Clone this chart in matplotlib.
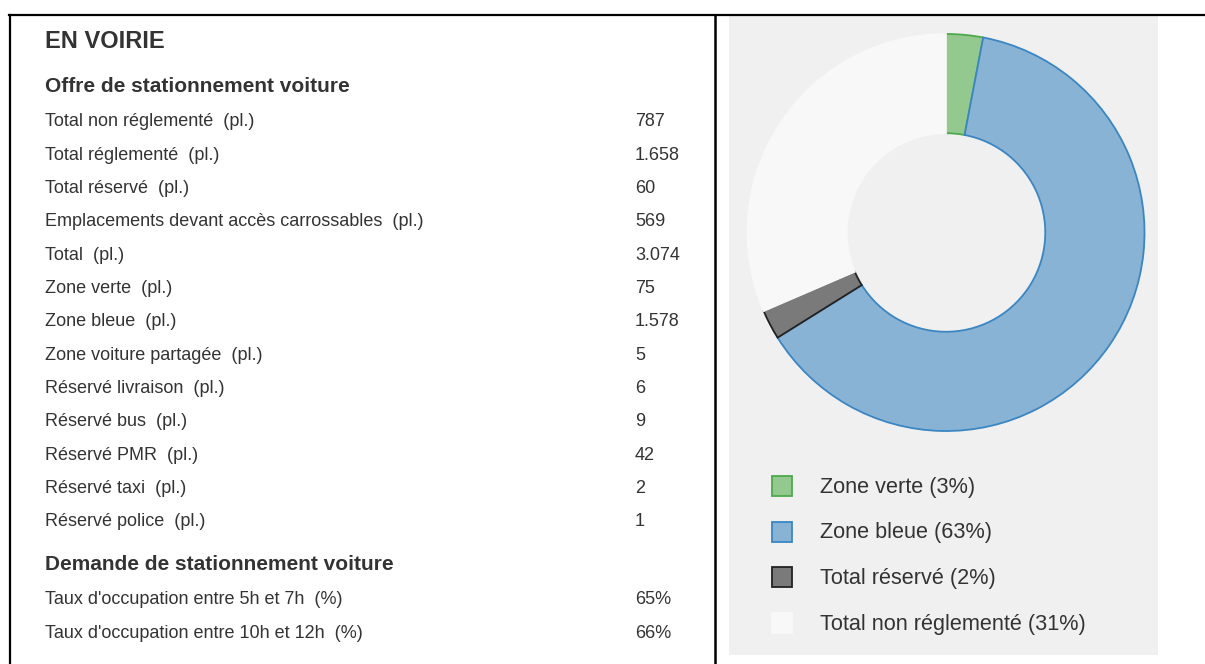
import matplotlib
matplotlib.use('Agg')
import matplotlib.pyplot as plt
from matplotlib.patches import Rectangle
from matplotlib.lines import Line2D

plt.rcParams['font.family'] = ['Liberation Sans', 'DejaVu Sans']

# tableau "offre"
offre_labels = ['Total non réglementé  (pl.)', 'Total réglementé  (pl.)', 'Total réservé  (pl.)',
                'Emplacements devant accès carrossables  (pl.)', 'Total  (pl.)', 'Zone verte  (pl.)',
                'Zone bleue  (pl.)', 'Zone voiture partagée  (pl.)', 'Réservé livraison  (pl.)',
                'Réservé bus  (pl.)', 'Réservé PMR  (pl.)', 'Réservé taxi  (pl.)', 'Réservé police  (pl.)']
offre_values = ['787', '1.658', '60', '569', '3.074', '75', '1.578', '5', '6', '9', '42', '2', '1']

# tableau "demande"
demande_labels = ["Taux d'occupation entre 5h et 7h  (%)", "Taux d'occupation entre 10h et 12h  (%)"]
demande_values = ['65%', '66%']

# donut
parts = ['Zone verte', 'Zone bleue', 'Total réservé', 'Total non réglementé']
parts_pl = [75, 1578, 60, 787]
fill_cols = ['#93c98f', '#88b3d4', '#7a7a7a', '#f8f8f8']
edge_cols = ['#4fa84c', '#3b86c2', '#222222', '#f8f8f8']

W, H = 1205, 664
fig = plt.figure(figsize=(W / 100, H / 100), dpi=100)
TXT = '#333333'

def fx(x):
    return x / W

def fy(y):
    return 1 - y / H

# cadre
for xs, ys, lw in [([9, 1205], [15, 15], 1.6), ([10, 10], [15, 664], 1.6), ([715, 715], [15, 664], 1.8)]:
    fig.add_artist(Line2D([fx(v) for v in xs], [fy(v) for v in ys], color='black', lw=lw))

# partie gauche : texte
fig.text(fx(45), fy(42), 'EN VOIRIE', fontsize=17, fontweight='bold', color=TXT, va='center')
fig.text(fx(45), fy(86), 'Offre de stationnement voiture', fontsize=15, fontweight='bold',
         color=TXT, va='center')
for i, (lab, val) in enumerate(zip(offre_labels, offre_values)):
    y = 122 + i * 33.3
    fig.text(fx(45), fy(y), lab, fontsize=13, color=TXT, va='center')
    fig.text(fx(635), fy(y), val, fontsize=13, color=TXT, va='center')

fig.text(fx(45), fy(564), 'Demande de stationnement voiture', fontsize=15, fontweight='bold',
         color=TXT, va='center')
for i, (lab, val) in enumerate(zip(demande_labels, demande_values)):
    y = 600 + i * 33.3
    fig.text(fx(45), fy(y), lab, fontsize=13, color=TXT, va='center')
    fig.text(fx(635), fy(y), val, fontsize=13, color=TXT, va='center')

# fond gris du graphique
fig.add_artist(Rectangle((fx(729), fy(655)), fx(1158 - 729), (655 - 16) / H,
                         facecolor='#f0f0f0', edgecolor='none', zorder=0))

# donut
cx, cy, r = 946, 232.5, 200.5
ax = fig.add_axes([fx(cx - r), fy(cy + r), 2 * r / W, 2 * r / H])
ax.set_facecolor('none')
wedges, _ = ax.pie(parts_pl, startangle=90, counterclock=False, colors=fill_cols,
                   wedgeprops=dict(width=0.5, linewidth=1.3))
for w, ec in zip(wedges, edge_cols):
    w.set_edgecolor(ec)
ax.set_xlim(-1.01, 1.01)
ax.set_ylim(-1.01, 1.01)
ax.set_aspect('equal')
ax.axis('off')

# légende
total = sum(parts_pl)
for i, (name, v) in enumerate(zip(parts, parts_pl)):
    y = 486 + i * 45.7
    fig.add_artist(Rectangle((fx(772), fy(y + 10)), 20 / W, 20 / H, facecolor=fill_cols[i],
                             edgecolor=edge_cols[i], lw=1.3))
    fig.text(fx(820), fy(y + 1), f'{name} ({round(100 * v / total)}%)', fontsize=15.6, color=TXT,
             va='center')

fig.savefig('out.png', dpi=100)
